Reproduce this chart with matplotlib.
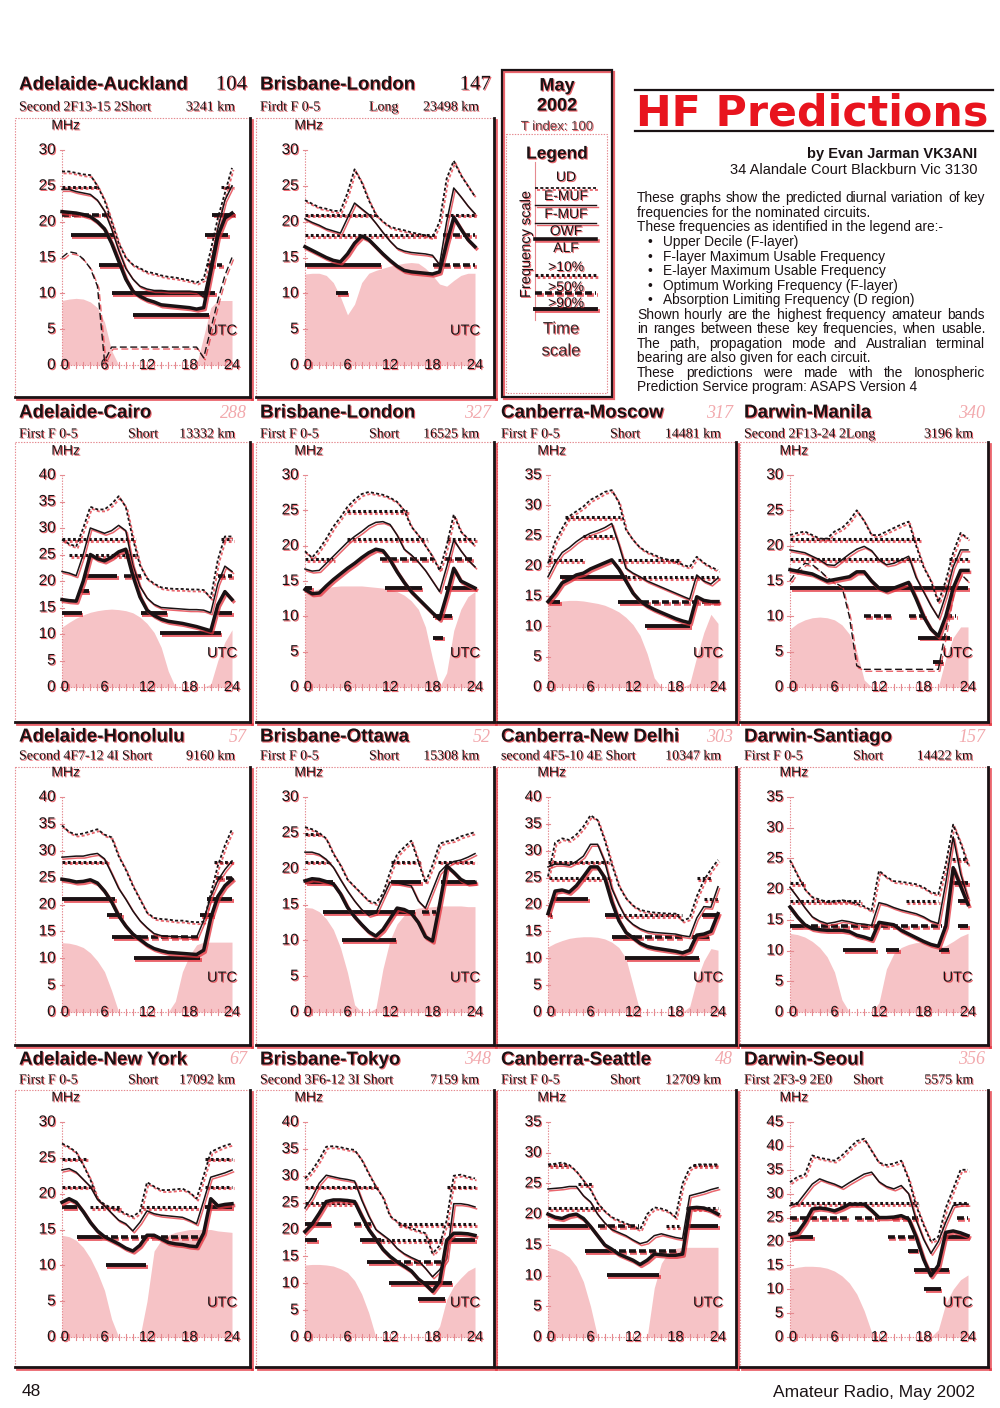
import matplotlib
matplotlib.use('Agg')
import matplotlib.pyplot as plt
import matplotlib.patheffects as pe
from matplotlib.patches import Rectangle

plt.rcParams['lines.scale_dashes'] = False
plt.rcParams['font.family'] = ['Liberation Sans', 'DejaVu Sans']

HOURS = list(range(25))

# ---------------- data (MHz, hourly 0..24 UTC) ----------------
AUCK_UD = [27, 27, 26.8, 26.6, 26.5, 25, 23, 20, 17, 15, 14, 13.5, 13, 12.8, 12.5, 12.3, 12.2, 12, 11.8, 11.5, 12, 16, 20.5, 24, 27.5]
AUCK_FMUF = [24.5, 24.5, 24.2, 24, 23.8, 23, 21.5, 19, 16, 13.5, 12, 11, 10.6, 10.4, 10.4, 10.3, 10.3, 10.3, 10.3, 10.2, 9.5, 14, 19, 23, 25]
AUCK_OWF = [21.4, 21.3, 21.2, 21, 20.7, 20, 19, 17, 14.5, 12, 10.3, 9.6, 9.1, 8.8, 8.4, 8.3, 8.2, 8.1, 8, 7.8, 8, 13, 18, 20.5, 21.2]
AUCK_EMUF = [15, 15.8, 15.6, 14.8, 13.5, 11, 0.5, 2.5, 2.5, 2.5, 2.5, 2.5, 2.5, 2.5, 2.5, 2.5, 2.5, 2.5, 2.5, 2.5, 1, 5, 9, 12.5, 15]
AUCK_ALF = [9, 9.2, 9.3, 9.2, 8.8, 8, 6, 2, 0, 0, 0, 0, 0, 0, 0, 0, 0, 0, 0, 0, 4, 8, 9, 9, 9]
AUCK_BANDS = [(24.9, 0, 5.2, 'o'), (21, 0, 6.6, 'd'), (18.1, 1.2, 7.3, 's'), (14, 5.2, 8.5, 's'),
              (10.1, 7, 21.6, 's'), (7, 10, 20.7, 's'), (21, 21.2, 24.4, 's'), (18.1, 20.2, 23.5, 's'),
              (14, 20.5, 22.6, 'd'), (24.9, 22.5, 24, 'o')]

LON1_UD = [23, 22.5, 22, 21.8, 21.5, 21.5, 24, 27.3, 25.5, 23, 21, 20, 19.3, 19, 18.8, 18.5, 18.3, 18.1, 17.8, 20, 26, 28.5, 26.5, 25, 23.5]
LON1_FMUF = [20.4, 19.9, 19.5, 19, 18.7, 18.4, 20.5, 22.6, 21.8, 21, 19.8, 18.5, 17.3, 16.3, 15.9, 15.7, 15.6, 15.5, 15.3, 14, 20, 24.7, 23.5, 22.2, 21.1]
LON1_OWF = [16.5, 16, 15.5, 15, 14.6, 14.4, 15.5, 17, 18, 17.5, 16.5, 15.5, 14.6, 13.8, 13.2, 13, 12.9, 12.8, 12.7, 13, 17, 20.6, 19, 17.5, 16.5]
LON1_ALF = [12.7, 12.8, 12.8, 12.5, 11.5, 9.5, 7, 8.5, 11.5, 12.8, 13.2, 13.5, 13.8, 14, 14.2, 14.3, 14.2, 13.5, 12.5, 11.3, 11, 11.8, 12.5, 12.8, 12.8]
LON1_BANDS = [(21, 0, 10, 'o'), (18.1, 0, 18.4, 'o'), (14, 0, 10.7, 's'), (10.1, 4.4, 6, 's'),
              (14, 18, 24, 'd'), (21, 19.8, 24, 'o'), (18.1, 19.5, 24, 'd')]

CAIRO_UD = [27.8, 27, 26.5, 30, 34, 33.5, 33.5, 34.5, 36, 34, 28, 23, 20.5, 19.5, 18.8, 18.6, 18.5, 18.5, 18.4, 18.4, 18.3, 16.8, 24, 28.4, 28.4]
CAIRO_FMUF = [21.8, 21.5, 21, 25, 30, 29.5, 29, 29.5, 30.5, 29.5, 23, 19, 16.8, 15.6, 15, 14.9, 14.8, 14.7, 14.6, 14.6, 14.5, 14, 19.5, 22.8, 21.8]
CAIRO_OWF = [16.5, 16.3, 16.2, 20, 25, 24.2, 23.8, 24.5, 25.5, 26, 21, 17, 14.5, 13.5, 12.8, 12.4, 12.2, 12, 11.7, 11.4, 11, 10.6, 15.5, 18, 16.5]
CAIRO_ALF = [11.3, 12.2, 13, 13.6, 14.1, 14.4, 14.6, 14.7, 14.6, 14.4, 14, 13.2, 12, 10.3, 7.5, 3, 0, 0, 0, 0, 0, 0.5, 5, 8.5, 10.8]
CAIRO_BANDS = [(28, 0, 10.4, 'o'), (24.9, 1, 10.4, 'o'), (21, 3.3, 7.8, 's'), (21, 8.7, 11.3, 'd'),
               (18.1, 2.6, 3.8, 's'), (14, 0, 2.8, 's'), (14, 11.1, 14.8, 's'), (10.1, 13.9, 22.4, 's'),
               (14, 21.9, 24, 's'), (21, 22, 24, 'd'), (28, 22.5, 24, 'o')]

LON2_UD = [19.2, 18.3, 19.5, 21, 22.7, 24, 25.5, 26.5, 27.3, 27.6, 27.4, 27.2, 26.8, 26.2, 25, 22.7, 21.5, 20, 18.5, 16.5, 20, 24.4, 22, 21, 20]
LON2_FMUF = [16.7, 16.4, 16.5, 17.5, 18.5, 19.5, 20.5, 21.3, 22, 22.8, 23.3, 23.4, 23, 21.5, 19.5, 18.7, 17.7, 16.5, 15, 13.5, 17, 20.8, 19.3, 18, 17]
LON2_OWF = [13.8, 13.2, 13.3, 14.3, 15.2, 16, 16.8, 17.5, 18.3, 19, 19.5, 19.3, 18, 16.3, 14.8, 13.5, 12.5, 11.5, 10.5, 9.6, 13, 16.8, 15, 14.5, 14]
LON2_ALF = [13.2, 13.6, 13.9, 14.1, 14.2, 14.3, 14.3, 14.3, 14.3, 14.2, 14.1, 14, 13.8, 13.5, 13, 12.2, 11, 8.5, 4, 0, 2, 8, 11, 12.8, 13.5]
LON2_BANDS = [(24.9, 5.9, 14.4, 'o'), (21, 5.9, 17.2, 'o'), (18.1, 0, 4, 'o'), (18.1, 10.6, 18, 'd'),
              (14, 0, 1, 's'), (14, 11.3, 16.5, 's'), (10.1, 18.1, 20.7, 's'), (7, 18.1, 19.5, 's'),
              (14, 19.8, 24, 's'), (18.1, 19.8, 24, 'd'), (21, 20, 24, 'o')]

MOSC_UD = [20.4, 24, 26.2, 28.2, 29, 29.8, 30.9, 31.5, 32.2, 32.5, 30.5, 26, 24.3, 23, 22.3, 21.8, 21.3, 21, 20.7, 20.2, 19.8, 21.5, 20.5, 19.8, 19.3]
MOSC_FMUF = [18.2, 20.5, 22.2, 23, 24, 24.8, 25.4, 25.8, 26.3, 27, 23.5, 19.6, 18.8, 18.2, 17.5, 17, 16.5, 16, 15.5, 15, 14.5, 18.5, 17.5, 17, 18]
MOSC_OWF = [14.1, 15.5, 17.2, 17.8, 18.5, 18.8, 19.5, 20, 20.5, 21, 19.5, 17.5, 15.5, 14.2, 13.4, 12.8, 12.3, 11.8, 11.3, 10.9, 10.6, 14.9, 14.3, 14.1, 14.1]
MOSC_ALF = [13.8, 14, 14.2, 14.3, 14.3, 14.2, 14, 13.8, 13.5, 13, 12.4, 11.5, 10.3, 8.5, 5.5, 1.5, 0, 0, 0, 0, 0.5, 5, 9, 12, 10.5]
MOSC_BANDS = [(28, 2.4, 10.2, 'o'), (24.9, 5, 9.5, 'o'), (21, 0, 5.2, 'o'), (21, 9.9, 18.7, 'o'),
              (18.1, 1.7, 11.1, 's'), (18.1, 11.1, 24, 'o'), (14, 0, 1.7, 's'), (14, 9.9, 13.3, 's'),
              (14, 13.3, 24, 'd'), (10.1, 13.7, 20.1, 's')]

MANI_UD = [21.5, 21.8, 22, 21.5, 21, 21, 22, 22.5, 23.5, 25, 23.5, 21.5, 21.5, 22, 22.5, 23, 23.4, 20, 17, 15, 12, 15, 19, 21.8, 21]
MANI_FMUF = [19.4, 19.2, 19, 18.5, 18, 17.3, 17.2, 18, 18.8, 19.5, 19.9, 19.3, 18, 17.3, 17.5, 18, 18.5, 15.5, 13.5, 11.5, 9.8, 13, 17, 19.4, 19.4]
MANI_OWF = [16.6, 16.4, 16.2, 16, 15.5, 15, 15.2, 15.4, 15.6, 16.3, 16.3, 15, 14, 13.6, 14, 14.4, 14.8, 12.5, 10, 8.2, 7.2, 10, 14, 16.5, 16.5]
MANI_EMUF = [15, 16.5, 17.5, 17.3, 16.5, 15.5, 14.8, 14.2, 10, 3, 2.5, 2.5, 2.5, 2.5, 2.5, 2.5, 2.5, 2.5, 2.5, 2.5, 2.5, 8, 14, 16, 15]
MANI_ALF = [8.2, 9, 9.5, 9.8, 9.9, 9.8, 9.5, 8.8, 7.5, 5, 1, 0, 0, 0, 0, 0, 0, 0, 0, 0, 0, 4, 7, 8.5, 8.5]
MANI_BANDS = [(21, 0, 17.5, 'o'), (18.1, 0, 17.3, 'o'), (18.1, 21.5, 24, 'o'), (14, 0, 24, 's'),
              (10.1, 10, 13.6, 'd'), (10.1, 16, 18.2, 'd'), (10.1, 20.9, 22.4, 'd'), (7, 17.3, 21.6, 's'),
              (3.5, 19.3, 20.6, 's')]

HONO_UD = [34.7, 33.5, 33, 33.2, 33.6, 34, 33, 32.5, 29, 26.5, 23.5, 21, 18.5, 17.5, 17.3, 17.2, 17, 17, 16.8, 16.7, 16.8, 22, 27.2, 31, 34]
HONO_FMUF = [28.8, 28.9, 29, 29, 29.3, 29.5, 28.5, 25.8, 23, 21, 18.8, 17, 15.7, 14.6, 14.2, 14.1, 14, 14, 13.9, 13.9, 17, 21.5, 24.5, 26.5, 28.1]
HONO_OWF = [24.7, 24.5, 24.2, 24.3, 24.6, 24, 22.5, 20.5, 17.9, 16, 14.5, 13.5, 12.5, 11.8, 11.4, 11.1, 11, 10.9, 10.8, 10.7, 11.5, 17.5, 21.5, 23.5, 24.7]
HONO_ALF = [12.9, 12.8, 12.5, 12, 11, 9.5, 7.5, 4, 0, 0, 0, 0, 0, 0, 0, 0, 2, 7.5, 10.5, 12.5, 13, 13, 13, 13, 13]
HONO_BANDS = [(28, 0, 6.4, 'o'), (28, 21.4, 24, 'o'), (24.9, 21.8, 24, 'd'), (21, 0, 7.5, 's'),
              (21, 20.5, 24, 's'), (18.1, 6.4, 8.5, 's'), (18.1, 19.5, 21.4, 's'), (14, 7.1, 11.1, 's'),
              (14, 11.1, 19.5, 'd'), (10.1, 10.1, 19.5, 's')]

OTTA_UD = [25.8, 25.5, 25, 24.2, 22.1, 20.5, 18.5, 17.5, 16.5, 15.5, 15.2, 16.5, 19.5, 22, 23, 23.9, 21, 18, 20.5, 23.5, 23.8, 24, 24.5, 24.8, 25.1]
OTTA_FMUF = [22.3, 22.3, 22, 21.3, 20.2, 18.5, 16.9, 15.5, 14.3, 13.5, 13.8, 16, 18.1, 18, 17.8, 17.6, 15.5, 14.5, 17, 19.5, 20.5, 21, 21.2, 21.6, 22.1]
OTTA_OWF = [18.3, 18.6, 18.5, 18.2, 17.9, 16.5, 14.6, 13.3, 12.2, 11.2, 10.6, 11.5, 13, 14.5, 14.3, 13.8, 12.5, 10.5, 9.9, 15, 20.4, 19.5, 18.5, 18, 18.1]
OTTA_ALF = [14.6, 14.5, 14, 13, 11.5, 9, 5.5, 1, 0, 0, 0.5, 6, 10, 12.3, 13.5, 14.2, 14.5, 14.6, 14.7, 14.8, 14.8, 14.8, 14.8, 14.7, 14.7]
OTTA_BANDS = [(24.9, 0, 2.1, 'o'), (21, 0, 3.6, 'o'), (21, 12.1, 16.2, 'o'), (21, 18.8, 24, 'o'),
              (18.1, 0, 4, 's'), (18.1, 12.1, 16.4, 's'), (18.1, 19.2, 24, 's'), (14, 2.5, 15.5, 's'),
              (14, 16.5, 18.5, 'd'), (10.1, 5.2, 12.8, 's')]

DELH_UD = [25.2, 31.5, 32.3, 32, 33, 34.5, 36.6, 35.7, 32, 27.5, 23.5, 21.2, 19.8, 19, 18.7, 18.5, 18.4, 18.3, 18.3, 17, 17.5, 21.5, 24.5, 26.5, 28.3]
DELH_FMUF = [27, 27.5, 27.5, 27.3, 28, 29, 31.2, 31.2, 28, 23, 20, 17.5, 16.3, 15.5, 15, 14.8, 14.7, 14.6, 14.5, 14.2, 14, 17.5, 19.6, 19.5, 23.3]
DELH_OWF = [18.3, 22.5, 22.7, 22.3, 23.5, 25.2, 27, 27, 25, 20.5, 17, 14.8, 13.8, 12.8, 12.2, 11.9, 11.7, 11.5, 11.3, 11, 11.5, 14.3, 14.5, 15, 18.3]
DELH_ALF = [12.1, 12.8, 13.3, 13.7, 13.9, 14, 14, 13.9, 13.6, 13, 12, 10, 5, 0, 0, 0, 0, 0, 0, 0, 1, 6, 9.5, 11.8, 11.5]
DELH_BANDS = [(28, 0, 8.5, 'o'), (24.9, 0.2, 9, 'o'), (21, 0.7, 5.7, 's'), (18.1, 0, 0.5, 's'),
              (18.1, 8, 9.9, 's'), (18.1, 9.9, 18.9, 'o'), (14, 9, 12.3, 's'), (14, 12.3, 18.9, 'd'),
              (10.1, 10.9, 21.3, 's'), (14, 20.3, 22.7, 's'), (18.1, 21.7, 24, 's'), (21, 22, 24, 'o'),
              (24.9, 21, 23, 'o')]

SANT_UD = [24.7, 22.3, 20, 18.7, 18.3, 17.9, 18, 18.2, 18, 17.6, 17.2, 16.5, 23, 22, 21.3, 21.2, 21, 20.8, 20.3, 19.5, 19.2, 24, 30.5, 27.5, 24]
SANT_FMUF = [20.3, 18.7, 17, 15.5, 14.8, 14.4, 14.6, 14.9, 14.7, 14.4, 14.3, 14.1, 17.8, 17.5, 17, 16.6, 16.3, 16, 15.5, 14.8, 14.4, 21, 28.5, 22.5, 18.5]
SANT_OWF = [17.1, 15.5, 14.2, 13.6, 13.4, 13.3, 13.3, 13.3, 13.1, 12.5, 12.2, 11.8, 14.6, 14.4, 14.2, 13.3, 12.7, 12.1, 11.5, 11, 10.7, 14, 23.5, 20.5, 17.5]
SANT_ALF = [12.8, 12.6, 12.2, 11.5, 10.5, 9, 6.5, 2, 0, 0, 0, 0, 1.5, 7, 9.5, 10.5, 11, 11.3, 11.3, 11, 10.5, 10.8, 11.5, 12.3, 12.8]
SANT_BANDS = [(21, 0, 1.9, 'o'), (18.1, 0, 9.5, 'o'), (18.1, 15.6, 20, 'o'), (24.9, 21.8, 23.6, 'o'),
              (21, 22, 24, 's'), (18.1, 22.7, 24, 's'), (14, 0, 1.5, 's'), (14, 1.5, 20.5, 'd'),
              (14, 22.7, 24, 's'), (10.1, 7.2, 11.6, 's'), (10.1, 12.9, 14.7, 's'), (10.1, 20.1, 21.4, 's')]

NYRK_UD = [27, 26.5, 25.8, 24, 22, 19.3, 18.5, 18, 17.7, 17.2, 16.8, 17.5, 21.6, 21, 20.5, 20.5, 20.6, 20.7, 20.2, 19.3, 22.5, 25.8, 26.3, 26.7, 27]
NYRK_FMUF = [23.3, 23.5, 23, 22, 21, 19.2, 18.3, 17.3, 16.3, 15.8, 14.8, 16, 17.6, 17.2, 17, 16.9, 16.8, 16.7, 16.3, 15.8, 19, 22.3, 22.6, 22.9, 23.3]
NYRK_OWF = [18.8, 19.3, 18.8, 17.5, 16, 14.8, 14, 13.5, 13, 12.4, 12, 12.8, 14.2, 14.2, 13.7, 13.2, 13, 12.9, 12.7, 12.6, 14.5, 19.3, 18.3, 18.5, 18.6]
NYRK_ALF = [14.2, 14, 13.5, 12.5, 11, 9, 6.5, 2.5, 0, 0, 0, 0, 5, 12, 13.5, 14.2, 14.6, 14.8, 15, 15, 15, 15, 14.8, 14.7, 14.6]
NYRK_BANDS = [(24.9, 0, 3.6, 'o'), (24.9, 20.2, 24, 'o'), (21, 0, 4.5, 'o'), (21, 20.2, 24, 'o'),
              (18.1, 0, 2.1, 's'), (18.1, 4, 8.3, 'o'), (18.1, 11.2, 19.2, 'o'), (18.1, 20.2, 24, 's'),
              (14, 2.1, 5.5, 's'), (14, 5.5, 19.7, 'd'), (10.1, 6.2, 11.9, 's')]

TOKY_UD = [29.5, 31, 33, 35.4, 35.5, 35.3, 35, 34.8, 33, 30.4, 28, 26, 22.5, 21.5, 20.7, 20.2, 19.8, 19.3, 15.5, 17, 21.7, 30, 30.2, 29.8, 29.5]
TOKY_FMUF = [24, 26, 28.6, 30.1, 29.8, 29.5, 29.3, 29, 25.5, 22.5, 20, 19, 18, 16.5, 15.5, 14.8, 14.2, 12.8, 11.2, 12.5, 14.5, 24.8, 24.8, 24.6, 24.2]
TOKY_OWF = [19.6, 21, 23, 25.2, 25.5, 25.5, 25.4, 25.2, 22.5, 20, 18.2, 16.3, 15, 14, 13.2, 12.3, 10.8, 9.8, 8.5, 10.3, 18, 19.3, 19.3, 19.2, 18.9]
TOKY_ALF = [13.4, 13.5, 13.5, 13.4, 13.2, 12.7, 12, 10.5, 8, 4.5, 0, 0, 0, 0, 0, 0, 0, 0, 0, 2, 7, 9.5, 11, 12.3, 13]
TOKY_BANDS = [(28, 0, 10.2, 'o'), (24.9, 0, 6.9, 'o'), (21, 0, 3.6, 's'), (21, 6.9, 9.3, 'd'),
              (21, 13.1, 19.7, 'o'), (18.1, 0, 1.7, 's'), (18.1, 7.8, 10.7, 's'), (18.1, 10.7, 19.5, 'o'),
              (14, 8.8, 12.6, 's'), (14, 12.6, 19.5, 'd'), (10.1, 11.9, 20.7, 's'), (7, 15.9, 19.7, 's'),
              (28, 20, 24, 'o'), (21, 20, 24, 'o'), (18.1, 20, 24, 's')]

SEAT_UD = [28.1, 28.2, 28.4, 28, 27, 25.5, 24, 21.8, 20.5, 19.5, 19, 18.5, 18, 17.5, 20, 21.1, 20.9, 20.5, 19.5, 25, 27.5, 28.1, 28.1, 28.1, 28.1]
SEAT_FMUF = [24.1, 24.2, 24.3, 24.5, 24.5, 23, 22, 20, 18.6, 17.5, 17, 16.5, 15.8, 15.2, 15.5, 16.5, 16.8, 16.5, 16.2, 16, 23, 23.3, 23.6, 24, 24.3]
SEAT_OWF = [20, 19.5, 19.3, 19.8, 20, 19.3, 18, 16.5, 15, 14.3, 13.5, 13, 12.5, 11.8, 12.5, 13.5, 13.4, 13.3, 13.3, 13.5, 21, 21.1, 21, 20.6, 20]
SEAT_ALF = [14.6, 14.3, 13.8, 13, 11.5, 9, 5, 0, 0, 0, 0, 0, 0, 0, 0, 8, 12, 13.8, 14.4, 14.6, 14.6, 14.6, 14.6, 14.6, 14.6]
SEAT_BANDS = [(28, 0, 2.9, 'o'), (28, 20.4, 24, 'o'), (24.9, 4.3, 6.2, 'o'), (21, 0, 7.6, 'o'),
              (21, 19.5, 24, 'o'), (18.1, 0, 5.7, 's'), (18.1, 7.1, 12.8, 'd'), (18.1, 16.6, 18.5, 'o'),
              (18.1, 19.5, 24, 's'), (14, 5.2, 8.6, 's'), (14, 8.6, 18.5, 'd'), (10.1, 8.3, 15.7, 's')]

SEOU_UD = [32.4, 33.5, 34, 38, 37.5, 37.2, 36.9, 38, 39.5, 41, 41.5, 39, 36.5, 36, 36.3, 36.9, 33, 27.5, 23.5, 20, 21, 27, 31, 35, 35]
SEOU_FMUF = [27.5, 28, 30, 32, 33.1, 32.5, 32, 31.3, 32.3, 33.2, 34.1, 34.5, 32.5, 31.5, 31, 31.7, 30, 24.5, 20.5, 17.5, 20, 24, 27.5, 27.8, 27.8]
SEOU_OWF = [21.5, 21.8, 24, 26.8, 27, 26.8, 26.4, 27, 27.8, 27.8, 27.8, 26.5, 25, 25, 25.1, 25.4, 24.7, 21, 16.3, 12.8, 15, 21.9, 22.2, 21.8, 21.2]
SEOU_ALF = [14.3, 14.6, 14.8, 14.8, 14.7, 14.4, 13.8, 12.8, 11.3, 9, 5.5, 1, 0, 0, 0, 0, 0, 0, 0, 0, 1.5, 7, 10, 12, 13]
SEOU_BANDS = [(28, 0, 17.2, 'o'), (28, 22, 24, 'o'), (24.9, 0, 7.9, 'd'), (24.9, 8.8, 11.9, 'd'),
              (24.9, 13.7, 17.2, 'd'), (24.9, 22.5, 24, 'd'), (21, 0, 3.1, 's'), (21, 13.2, 16.7, 'd'),
              (21, 20.7, 24, 's'), (18.1, 15.9, 17.2, 's'), (14, 16.7, 21.4, 's'), (10.1, 18.1, 20.3, 's')]

# row, col, circuit, bearing, mode, path, distance, top of scale, series...
PANELS = [
    (0, 0, 'Adelaide-Auckland', '104', 'Second 2F13-15 2Short', '', '3241 km', 30,
     AUCK_UD, AUCK_FMUF, AUCK_OWF, AUCK_EMUF, AUCK_ALF, AUCK_BANDS),
    (0, 1, 'Brisbane-London', '147', 'Firdt F 0-5', 'Long', '23498 km', 30,
     LON1_UD, LON1_FMUF, LON1_OWF, None, LON1_ALF, LON1_BANDS),
    (1, 0, 'Adelaide-Cairo', '288', 'First F 0-5', 'Short', '13332 km', 40,
     CAIRO_UD, CAIRO_FMUF, CAIRO_OWF, None, CAIRO_ALF, CAIRO_BANDS),
    (1, 1, 'Brisbane-London', '327', 'First F 0-5', 'Short', '16525 km', 30,
     LON2_UD, LON2_FMUF, LON2_OWF, None, LON2_ALF, LON2_BANDS),
    (1, 2, 'Canberra-Moscow', '317', 'First F 0-5', 'Short', '14481 km', 35,
     MOSC_UD, MOSC_FMUF, MOSC_OWF, None, MOSC_ALF, MOSC_BANDS),
    (1, 3, 'Darwin-Manila', '340', 'Second 2F13-24 2Long', '', '3196 km', 30,
     MANI_UD, MANI_FMUF, MANI_OWF, MANI_EMUF, MANI_ALF, MANI_BANDS),
    (2, 0, 'Adelaide-Honolulu', '57', 'Second 4F7-12 4I Short', '', '9160 km', 40,
     HONO_UD, HONO_FMUF, HONO_OWF, None, HONO_ALF, HONO_BANDS),
    (2, 1, 'Brisbane-Ottawa', '52', 'First F 0-5', 'Short', '15308 km', 30,
     OTTA_UD, OTTA_FMUF, OTTA_OWF, None, OTTA_ALF, OTTA_BANDS),
    (2, 2, 'Canberra-New Delhi', '303', 'second 4F5-10 4E Short', '', '10347 km', 40,
     DELH_UD, DELH_FMUF, DELH_OWF, None, DELH_ALF, DELH_BANDS),
    (2, 3, 'Darwin-Santiago', '157', 'First F 0-5', 'Short', '14422 km', 35,
     SANT_UD, SANT_FMUF, SANT_OWF, None, SANT_ALF, SANT_BANDS),
    (3, 0, 'Adelaide-New York', '67', 'First F 0-5', 'Short', '17092 km', 30,
     NYRK_UD, NYRK_FMUF, NYRK_OWF, None, NYRK_ALF, NYRK_BANDS),
    (3, 1, 'Brisbane-Tokyo', '348', 'Second 3F6-12 3I Short', '', '7159 km', 40,
     TOKY_UD, TOKY_FMUF, TOKY_OWF, None, TOKY_ALF, TOKY_BANDS),
    (3, 2, 'Canberra-Seattle', '48', 'First F 0-5', 'Short', '12709 km', 35,
     SEAT_UD, SEAT_FMUF, SEAT_OWF, None, SEAT_ALF, SEAT_BANDS),
    (3, 3, 'Darwin-Seoul', '356', 'First 2F3-9 2E0', 'Short', '5575 km', 45,
     SEOU_UD, SEOU_FMUF, SEOU_OWF, None, SEOU_ALF, SEOU_BANDS),
]

# text, bullet, justified
INTRO = [
    ('These graphs show the predicted diurnal variation of key', False, True),
    ('frequencies for the nominated circuits.', False, False),
    ('These frequencies as identified in the legend are:-', False, False),
    ('Upper Decile (F-layer)', True, False),
    ('F-layer Maximum Usable Frequency', True, False),
    ('E-layer Maximum Usable Frequency', True, False),
    ('Optimum Working Frequency (F-layer)', True, False),
    ('Absorption Limiting Frequency (D region)', True, False),
    ('Shown hourly are the highest frequency amateur bands', False, True),
    ('in ranges between these key frequencies, when usable.', False, True),
    ('The path, propagation mode and Australian terminal', False, True),
    ('bearing are also given for each circuit.', False, False),
    ('These predictions were made with the Ionospheric', False, True),
    ('Prediction Service program: ASAPS Version 4', False, False),
]

# ---------------- page layout (pixels) ----------------
W, H = 1000, 1408
COL_BOX = [(15, 250), (256, 494), (497, 736), (740, 988)]
COL_AX = [(62, 232), (305, 475), (548, 718), (790, 968)]
# title y, subtitle y, box top, box bottom, axis zero y, axis top y
ROW_GEOM = [(85, 107, 118, 397, 365, 150), (413, 434, 442, 722, 687, 475),
            (737, 756, 767, 1045, 1012, 797), (1060, 1080, 1090, 1367, 1337, 1122)]

RED = '#e3323c'
PINK = '#e58a90'
FILL = '#f6c3c6'
INK = '#1a1214'

LSH = [pe.SimpleLineShadow(offset=(1.1, -1.4), shadow_color=RED, alpha=0.75), pe.Normal()]
TSH = [pe.withSimplePatchShadow(offset=(0.8, -0.8), shadow_rgbFace=RED, alpha=0.75)]

BAND_STYLE = {'o': dict(lw=2.2, ls=(0, (2, 1.8))),
              's': dict(lw=2.8, ls='-'),
              'd': dict(lw=2.6, ls=(0, (5, 2.2)))}

fig = plt.figure(figsize=(10, 14.08), dpi=100)
bg = fig.add_axes([0, 0, 1, 1])
bg.set_xlim(0, W)
bg.set_ylim(H, 0)
bg.axis('off')


def draw_panel(row, col, name, num, mode, path, km, ymax, ud, fmuf, owf, emuf, alf, bands):
    ty, sy, btop, bbot, y0, ytop = ROW_GEOM[row]
    bl, br = COL_BOX[col]
    al, ar = COL_AX[col]

    # frame and heading
    bg.add_patch(Rectangle((bl, btop), br - bl, bbot - btop, fill=False,
                           ec=PINK, lw=0.8, ls=(0, (1, 1))))
    bg.plot([br, br], [btop, bbot], color=INK, lw=2.0, path_effects=LSH)
    bg.plot([bl, br], [bbot, bbot], color=INK, lw=2.0, path_effects=LSH)
    bg.text(bl + 4, ty, name, fontsize=13.5, weight='bold', color=INK,
            va='center', ha='left', path_effects=TSH)
    if row == 0:
        bg.text(br - 3, ty, num, fontsize=15, family='Liberation Serif', color=INK,
                va='center', ha='right', path_effects=TSH)
    else:
        bg.text(br - 3, ty, num, fontsize=13, family='Liberation Serif', style='italic',
                color='#f2a9ad', va='center', ha='right')
    bg.text(bl + 4, sy, mode, fontsize=10, family='Liberation Serif', color=INK,
            va='center', ha='left', path_effects=TSH)
    if path:
        bg.text(bl + 113, sy, path, fontsize=10, family='Liberation Serif', color=INK,
                va='center', ha='left', path_effects=TSH)
    bg.text(br - 15, sy, km, fontsize=10, family='Liberation Serif', color=INK,
            va='center', ha='right', path_effects=TSH)

    ax = fig.add_axes([al / W, 1 - y0 / H, (ar - al) / W, (y0 - ytop) / H])
    ax.set_xlim(0, 24)
    ax.set_ylim(0, ymax)
    ax.axis('off')

    # axes drawn by hand, like the print
    ax.plot([0, 0], [0, ymax], color=PINK, lw=0.8, ls=(0, (1, 1)), clip_on=False)
    ax.plot([0, 24], [0, 0], color=PINK, lw=0.8, ls=(0, (1, 1)), clip_on=False)
    for v in range(0, ymax + 1, 5):
        ax.plot([-0.35, 0.35], [v, v], color=PINK, lw=0.8, clip_on=False)
        ax.text(-0.9, v, str(v), fontsize=11, color=INK, ha='right', va='center',
                path_effects=TSH)
    for h in HOURS:
        ax.plot([h, h], [-0.012 * ymax, 0.012 * ymax], color=PINK, lw=0.8, clip_on=False)
    for h in (0, 6, 12, 18, 24):
        ax.text(h + 0.4 if h == 0 else h, 0, str(h), fontsize=10.5, color=INK,
                ha='center', va='center', path_effects=TSH)
    ax.text(22.6, ymax * 0.16, 'UTC', fontsize=10.5, color=INK, ha='center',
            va='center', path_effects=TSH)
    ax.text(0.5, ymax * 1.115, 'MHz', fontsize=10, color=INK, ha='center',
            va='center', path_effects=TSH, clip_on=False)

    ax.fill_between(HOURS, 0, alf, color=FILL, lw=0, zorder=1)
    for f, h0, h1, st in bands:
        ax.plot([h0, h1], [f, f], color=INK, solid_capstyle='butt',
                path_effects=LSH, zorder=3, clip_on=False, **BAND_STYLE[st])
    ax.plot(HOURS, ud, color=INK, lw=1.3, ls=(0, (2.2, 1.6)), path_effects=LSH,
            zorder=4, clip_on=False)
    if emuf is not None:
        ax.plot(HOURS, emuf, color=INK, lw=1.0, ls=(0, (5, 2.5)), path_effects=LSH,
                zorder=4, clip_on=False)
    ax.plot(HOURS, fmuf, color=INK, lw=1.1, path_effects=LSH, zorder=4, clip_on=False)
    ax.plot(HOURS, owf, color=INK, lw=2.5, path_effects=LSH, zorder=5, clip_on=False)


for p in PANELS:
    for series in p[8:13]:
        if series is not None and len(series) != 25:
            raise ValueError('%s series has %d values' % (p[2], len(series)))
    draw_panel(*p)

# ---------------- legend column ----------------
bg.add_patch(Rectangle((502, 70), 110, 327, fill=False, ec=INK, lw=1.6, path_effects=LSH))
bg.add_patch(Rectangle((506, 134), 101, 259, fill=False, ec=PINK, lw=0.8, ls=(0, (1, 1))))
bg.text(557, 86, 'May', fontsize=13, weight='bold', color=INK, ha='center', va='center', path_effects=TSH)
bg.text(557, 106, '2002', fontsize=13, weight='bold', color=INK, ha='center', va='center', path_effects=TSH)
bg.text(557, 127, 'T index: 100', fontsize=9.5, color='#5a4446', ha='center', va='center', path_effects=TSH)
bg.text(557, 154, 'Legend', fontsize=12.5, weight='bold', color=INK, ha='center', va='center', path_effects=TSH)
bg.text(526, 244, 'Frequency scale', fontsize=10.5, rotation=90, color=INK, ha='center', va='center', path_effects=TSH)
bg.plot([535, 535], [162, 320], color=PINK, lw=0.8)
LEG_ITEMS = [('UD', 177, 188, dict(lw=1.3, ls=(0, (2.2, 1.6)))),
             ('E-MUF', 196, 205, dict(lw=1.0, ls='-')),
             ('F-MUF', 214, 223, dict(lw=1.0, ls='-')),
             ('OWF', 231, 239, dict(lw=2.6, ls='-')),
             ('ALF', 248, None, None),
             ('>10%', 267, 275, BAND_STYLE['o']),
             ('>50%', 287, 293, BAND_STYLE['d']),
             ('>90%', 303, 309, BAND_STYLE['s'])]
for lab, yt, yl, sty in LEG_ITEMS:
    bg.text(566, yt, lab, fontsize=10, color=INK, ha='center', va='center', path_effects=TSH)
    if yl is not None:
        bg.plot([535, 596], [yl, yl], color=INK, path_effects=LSH, **sty)
bg.text(561, 329, 'Time', fontsize=12, color='#3a2a2c', ha='center', va='center', path_effects=TSH)
bg.text(561, 351, 'scale', fontsize=12, color='#3a2a2c', ha='center', va='center', path_effects=TSH)

# ---------------- heading and notes ----------------
bg.plot([635, 993], [90, 90], color=INK, lw=1.6)
bg.plot([635, 993], [131, 131], color=INK, lw=1.6)
title = bg.text(636, 126, 'HF Predictions', fontsize=25, weight='bold', family='DejaVu Sans',
                color='#e8141e', ha='left', va='baseline')
fig.canvas.draw()
renderer = fig.canvas.get_renderer()
tw = title.get_window_extent(renderer).width
title.set_fontsize(25 * 352 / tw)

bg.text(977, 154, 'by Evan Jarman VK3ANI', fontsize=10.5, weight='bold', color=INK, ha='right', va='center')
bg.text(977, 170, '34 Alandale Court Blackburn Vic 3130', fontsize=10.5, color=INK, ha='right', va='center')

LINE_Y = [198, 213, 227, 242, 257, 271, 286, 300, 315, 329, 344, 358, 373, 387]
TXT_L, TXT_R, FS = 637, 985, 9.9
for (txt, bullet, just), y in zip(INTRO, LINE_Y):
    if bullet:
        bg.text(650, y, '\u2022', fontsize=FS, color=INK, ha='center', va='center')
        bg.text(663, y, txt, fontsize=FS, color=INK, ha='left', va='center')
    elif just:
        words = txt.split(' ')
        arts = [bg.text(0, y, w, fontsize=FS, color=INK, ha='left', va='center') for w in words]
        widths = [a.get_window_extent(renderer).width for a in arts]
        gap = (TXT_R - TXT_L - sum(widths)) / (len(words) - 1)
        x = TXT_L
        for a, w in zip(arts, widths):
            a.set_x(x)
            x += w + gap
    else:
        bg.text(TXT_L, y, txt, fontsize=FS, color=INK, ha='left', va='center')

bg.text(22, 1392, '48', fontsize=12.5, color=INK, ha='left', va='center')
bg.text(975, 1392, 'Amateur Radio, May 2002', fontsize=12.5, color=INK, ha='right', va='center')

fig.savefig('out.png', dpi=100, facecolor='white')
